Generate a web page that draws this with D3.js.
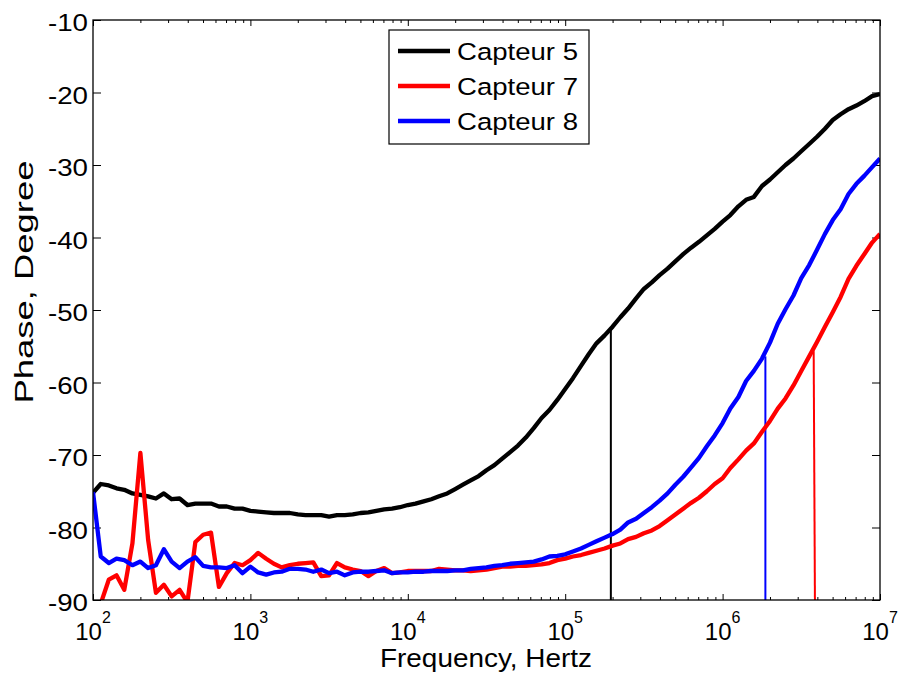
<!DOCTYPE html>
<html>
<head>
<meta charset="utf-8">
<script src="https://cdn.jsdelivr.net/npm/d3@7"></script>
<style>
  html, body { margin: 0; padding: 0; background: #fff; }
  svg { display: block; font-family: Arial, "Liberation Sans", sans-serif; }
</style>
</head>
<body>
<svg id="chart" width="901" height="678"></svg>
<script>
// ---------------- DATA ----------------
const frequencies = [
  1.00e2,1.12e2,1.26e2,1.41e2,1.58e2,1.78e2,2.00e2,2.24e2,2.51e2,2.82e2,3.16e2,3.55e2,3.98e2,4.47e2,5.01e2,5.62e2,6.31e2,7.08e2,7.94e2,8.91e2,
  1.00e3,1.12e3,1.26e3,1.41e3,1.58e3,1.78e3,2.00e3,2.24e3,2.51e3,2.82e3,3.16e3,3.55e3,3.98e3,4.47e3,5.01e3,5.62e3,6.31e3,7.08e3,7.94e3,8.91e3,
  1.00e4,1.12e4,1.26e4,1.41e4,1.58e4,1.78e4,2.00e4,2.24e4,2.51e4,2.82e4,3.16e4,3.55e4,3.98e4,4.47e4,5.01e4,5.62e4,6.31e4,7.08e4,7.94e4,8.91e4,
  1.00e5,1.12e5,1.26e5,1.41e5,1.58e5,1.78e5,2.00e5,2.24e5,2.51e5,2.82e5,3.16e5,3.55e5,3.98e5,4.47e5,5.01e5,5.62e5,6.31e5,7.08e5,7.94e5,8.91e5,
  1.00e6,1.12e6,1.26e6,1.41e6,1.58e6,1.78e6,2.00e6,2.24e6,2.51e6,2.82e6,3.16e6,3.55e6,3.98e6,4.47e6,5.01e6,5.62e6,6.31e6,7.08e6,7.94e6,8.91e6,
  1.00e7
];

const capteur5 = [
  -75.2,-74.0,-74.2,-74.6,-74.8,-75.3,-75.5,-75.7,-76.0,-75.3,-76.1,-76.0,-76.9,-76.7,-76.7,-76.7,-77.1,-77.1,-77.4,-77.4,
  -77.7,-77.8,-77.9,-78.0,-78.0,-78.0,-78.2,-78.3,-78.3,-78.3,-78.5,-78.3,-78.3,-78.2,-78.0,-77.9,-77.7,-77.5,-77.4,-77.2,
  -76.9,-76.7,-76.4,-76.1,-75.7,-75.3,-74.7,-74.1,-73.5,-72.9,-72.1,-71.4,-70.5,-69.6,-68.7,-67.6,-66.3,-64.9,-63.8,-62.4,
  -60.9,-59.4,-57.7,-56.1,-54.6,-53.5,-52.3,-51.0,-49.8,-48.4,-47.1,-46.2,-45.2,-44.3,-43.3,-42.3,-41.4,-40.6,-39.7,-38.8,
  -37.8,-36.9,-35.7,-34.8,-34.4,-32.9,-32.0,-31.0,-30.0,-29.1,-28.1,-27.1,-26.1,-25.0,-23.8,-23.0,-22.3,-21.8,-21.2,-20.5,
  -20.2
];

const capteur7 = [
  -96.0,-90.5,-87.2,-86.6,-88.6,-82.2,-69.7,-81.7,-89.0,-87.9,-89.5,-88.6,-90.3,-82.0,-81.0,-80.7,-88.2,-86.3,-84.9,-85.2,
  -84.5,-83.5,-84.3,-85.0,-85.5,-85.2,-85.0,-84.9,-84.8,-86.7,-86.6,-84.9,-85.5,-85.8,-86.0,-86.7,-86.0,-85.6,-86.3,-86.2,
  -86.0,-86.0,-86.0,-86.0,-85.7,-85.8,-85.9,-85.9,-86.0,-85.9,-85.8,-85.6,-85.4,-85.4,-85.3,-85.3,-85.2,-85.1,-84.9,-84.5,
  -84.3,-84.0,-83.8,-83.5,-83.2,-82.9,-82.5,-82.2,-81.6,-81.3,-80.8,-80.4,-79.8,-79.0,-78.2,-77.4,-76.6,-75.9,-75.0,-74.0,
  -73.2,-71.8,-70.6,-69.4,-68.4,-66.8,-65.3,-63.6,-62.2,-60.4,-58.4,-56.4,-54.4,-52.3,-50.3,-48.2,-45.7,-43.9,-42.3,-40.7,
  -39.5
];

const capteur8 = [
  -75.1,-84.0,-84.9,-84.3,-84.5,-85.2,-84.7,-85.6,-85.2,-83.0,-84.7,-85.6,-84.7,-84.1,-85.3,-85.5,-85.5,-85.6,-85.2,-86.3,
  -85.4,-86.2,-86.5,-86.2,-86.1,-85.7,-85.7,-85.8,-86.1,-85.8,-86.3,-86.1,-86.6,-86.2,-86.1,-86.1,-86.0,-85.9,-86.3,-86.2,
  -86.2,-86.1,-86.1,-86.0,-86.0,-86.0,-85.9,-85.9,-85.7,-85.6,-85.5,-85.3,-85.2,-85.0,-84.9,-84.8,-84.7,-84.4,-84.0,-83.9,
  -83.7,-83.3,-82.9,-82.4,-81.9,-81.4,-80.9,-80.3,-79.3,-78.8,-78.0,-77.2,-76.3,-75.3,-74.1,-73.0,-71.7,-70.4,-68.8,-67.3,
  -65.6,-63.6,-62.0,-59.8,-58.4,-56.7,-54.5,-51.9,-49.9,-48.0,-45.6,-43.8,-41.7,-39.5,-37.6,-36.1,-34.0,-32.6,-31.5,-30.3,
  -29.1
];

// cut-off marker lines (frequency, phase) pairs
const marker5 = { f: [1.95e5, 1.95e5], p: [-52.4, -90] };
const marker7 = { f: [3.79e6, 3.86e6], p: [-55.7, -90] };
const marker8 = { f: [1.87e6, 1.87e6], p: [-56.4, -90] };

const seriesNames = ["Capteur 5", "Capteur 7", "Capteur 8"];
const seriesColors = ["#000000", "#ff0000", "#0000ff"];

const xMajorTicks = [1e2, 1e3, 1e4, 1e5, 1e6, 1e7];
const xTickExponents = ["2", "3", "4", "5", "6", "7"];
const yTicks = [-90, -80, -70, -60, -50, -40, -30, -20, -10];
const xLabel = "Frequency, Hertz";
const yLabel = "Phase, Degree";

// ---------------- LAYOUT ----------------
const L = 93, R = 880, T = 20, B = 600;
const svg = d3.select("#chart");
const x = d3.scaleLog().domain([1e2, 1e7]).range([L, R]);
const y = d3.scaleLinear().domain([-90, -10]).range([B, T]);

const minorTicks = [];
for (let d = 2; d < 7; d++) for (let m = 2; m <= 9; m++) minorTicks.push(m * Math.pow(10, d));

svg.append("defs").append("clipPath").attr("id", "clip")
  .append("rect").attr("x", L).attr("y", T).attr("width", R - L).attr("height", B - T);

// ---------------- AXES ----------------
function styleAxis(g) {
  g.select(".domain").remove();
  g.selectAll(".tick line").attr("stroke", "#000").attr("stroke-width", 1);
  g.selectAll("text").remove();
}
svg.append("g").attr("transform", `translate(0,${B})`)
  .call(d3.axisBottom(x).tickValues(xMajorTicks).tickSize(-6).tickFormat("")).call(styleAxis);
svg.append("g").attr("transform", `translate(0,${B})`)
  .call(d3.axisBottom(x).tickValues(minorTicks).tickSize(-3).tickFormat("")).call(styleAxis);
svg.append("g").attr("transform", `translate(0,${T})`)
  .call(d3.axisTop(x).tickValues(xMajorTicks).tickSize(-6).tickFormat("")).call(styleAxis);
svg.append("g").attr("transform", `translate(0,${T})`)
  .call(d3.axisTop(x).tickValues(minorTicks).tickSize(-3).tickFormat("")).call(styleAxis);
svg.append("g").attr("transform", `translate(${L},0)`)
  .call(d3.axisLeft(y).tickValues(yTicks).tickSize(-8).tickFormat("")).call(styleAxis);
svg.append("g").attr("transform", `translate(${R},0)`)
  .call(d3.axisRight(y).tickValues(yTicks).tickSize(-8).tickFormat("")).call(styleAxis);

// y tick labels
svg.append("g").selectAll("text").data(yTicks).join("text")
  .attr("x", L - 5).attr("y", d => y(d) + 11)
  .attr("text-anchor", "end").attr("font-size", 23.5).attr("fill", "#000")
  .attr("textLength", 40).attr("lengthAdjust", "spacingAndGlyphs")
  .text(d => String(d));

// x tick labels with superscript exponents
const xl = svg.append("g").selectAll("text").data(xMajorTicks).join("text")
  .attr("x", d => x(d)).attr("y", B + 40)
  .attr("text-anchor", "middle").attr("font-size", 24).attr("fill", "#000");
xl.append("tspan").text("10");
xl.append("tspan").attr("dy", -17).attr("font-size", 16).text((d, i) => xTickExponents[i]);

// axis titles
svg.append("text").attr("x", 486).attr("y", 667).attr("text-anchor", "middle")
  .attr("font-size", 26).attr("fill", "#000")
  .attr("textLength", 212).attr("lengthAdjust", "spacingAndGlyphs").text(xLabel);
svg.append("text").attr("transform", "translate(33,282) rotate(-90)").attr("text-anchor", "middle")
  .attr("font-size", 25).attr("fill", "#000")
  .attr("textLength", 243).attr("lengthAdjust", "spacingAndGlyphs").text(yLabel);

// ---------------- LINES ----------------
const plot = svg.append("g").attr("clip-path", "url(#clip)");
const line = d3.line().x(d => x(d[0])).y(d => y(d[1]));
const allSeries = [capteur5, capteur7, capteur8];
const markers = [marker5, marker7, marker8];

markers.forEach((m, i) => {
  plot.append("path").datum(m.f.map((f, k) => [f, m.p[k]]))
    .attr("d", line).attr("fill", "none")
    .attr("stroke", seriesColors[i]).attr("stroke-width", 2);
});
allSeries.forEach((s, i) => {
  plot.append("path").datum(frequencies.map((f, k) => [f, s[k]]))
    .attr("d", line).attr("fill", "none")
    .attr("stroke", seriesColors[i]).attr("stroke-width", 4.3)
    .attr("stroke-linejoin", "round");
});

// frame
svg.append("rect").attr("x", L).attr("y", T).attr("width", R - L).attr("height", B - T)
  .attr("fill", "none").attr("stroke", "#000").attr("stroke-width", 1.3);

// ---------------- LEGEND ----------------
const lg = svg.append("g");
lg.append("rect").attr("x", 389).attr("y", 30).attr("width", 200).attr("height", 114)
  .attr("fill", "#fff").attr("stroke", "#000").attr("stroke-width", 1.2);
seriesNames.forEach((n, i) => {
  const yy = 51 + i * 35;
  lg.append("line").attr("x1", 398).attr("x2", 450).attr("y1", yy).attr("y2", yy)
    .attr("stroke", seriesColors[i]).attr("stroke-width", 4.3);
  lg.append("text").attr("x", 457).attr("y", yy + 9).attr("font-size", 24.5)
    .attr("fill", "#000").attr("textLength", 121).attr("lengthAdjust", "spacingAndGlyphs").text(n);
});
</script>
</body>
</html>
